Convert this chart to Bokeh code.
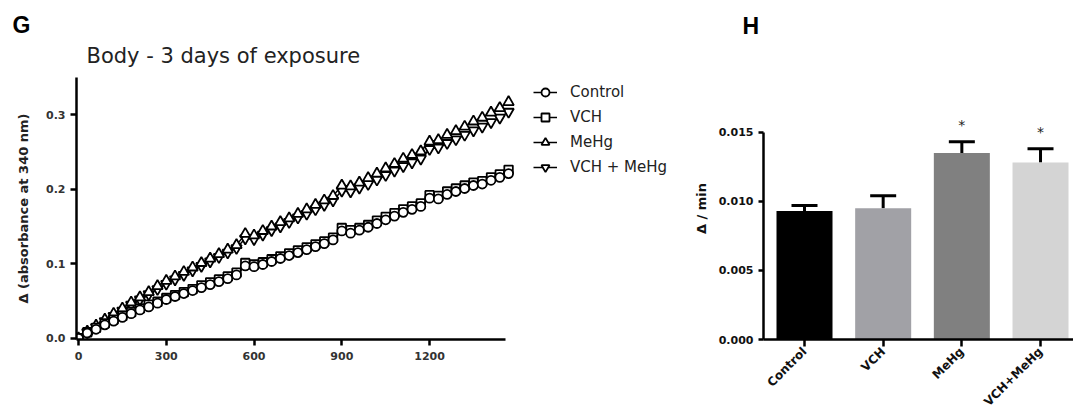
import math
from bokeh.plotting import figure
from bokeh.models import (Range1d, FixedTicker, Legend, LegendItem, Title, Whisker,
                          TeeHead, ColumnDataSource, NumeralTickFormatter)
from bokeh.layouts import row
from bokeh.embed import file_html
from bokeh.resources import INLINE
from bokeh.core.properties import value

# ---------------- data: panel G ----------------
time_s = [0, 30, 60, 90, 120, 150, 180, 210, 240, 270,
          300, 330, 360, 390, 420, 450, 480, 510, 540, 570,
          600, 630, 660, 690, 720, 750, 780, 810, 840, 870,
          900, 930, 960, 990, 1020, 1050, 1080, 1110, 1140, 1170,
          1200, 1230, 1260, 1290, 1320, 1350, 1380, 1410, 1440, 1470]

control = [0.000, 0.007, 0.012, 0.018, 0.023, 0.028, 0.033, 0.038, 0.042, 0.047,
           0.052, 0.056, 0.060, 0.064, 0.068, 0.072, 0.076, 0.080, 0.085, 0.097,
           0.096, 0.099, 0.103, 0.107, 0.111, 0.115, 0.119, 0.123, 0.127, 0.132,
           0.144, 0.141, 0.145, 0.149, 0.154, 0.159, 0.164, 0.169, 0.173, 0.177,
           0.188, 0.187, 0.193, 0.197, 0.201, 0.205, 0.207, 0.212, 0.216, 0.221]

vch = [0.000, 0.008, 0.014, 0.020, 0.025, 0.030, 0.035, 0.040, 0.045, 0.049,
       0.054, 0.058, 0.062, 0.066, 0.071, 0.075, 0.079, 0.083, 0.088, 0.101,
       0.099, 0.102, 0.106, 0.110, 0.114, 0.118, 0.122, 0.126, 0.130, 0.135,
       0.148, 0.145, 0.148, 0.152, 0.158, 0.163, 0.168, 0.173, 0.177, 0.181,
       0.192, 0.191, 0.197, 0.201, 0.205, 0.209, 0.211, 0.216, 0.220, 0.226]

mehg = [0.000, 0.009, 0.017, 0.025, 0.033, 0.040, 0.048, 0.055, 0.062, 0.070,
        0.077, 0.083, 0.089, 0.095, 0.101, 0.107, 0.113, 0.119, 0.125, 0.140,
        0.138, 0.144, 0.150, 0.156, 0.161, 0.167, 0.173, 0.179, 0.185, 0.191,
        0.205, 0.204, 0.209, 0.215, 0.221, 0.228, 0.234, 0.241, 0.246, 0.251,
        0.264, 0.266, 0.273, 0.278, 0.284, 0.291, 0.296, 0.303, 0.309, 0.317]

vch_mehg = [0.000, 0.008, 0.015, 0.023, 0.030, 0.037, 0.045, 0.052, 0.059, 0.066,
            0.073, 0.079, 0.085, 0.091, 0.097, 0.103, 0.109, 0.115, 0.121, 0.134,
            0.133, 0.139, 0.145, 0.150, 0.156, 0.162, 0.167, 0.173, 0.179, 0.185,
            0.198, 0.197, 0.202, 0.207, 0.213, 0.219, 0.225, 0.231, 0.236, 0.241,
            0.254, 0.256, 0.262, 0.267, 0.273, 0.279, 0.284, 0.290, 0.296, 0.304]

series_names = ["Control", "VCH", "MeHg", "VCH + MeHg"]
series_markers = ["circle", "square", "triangle", "inverted_triangle"]
x_ticks = [0, 300, 600, 900, 1200]
y_ticks = [0.0, 0.1, 0.2, 0.3]
title_g = "Body - 3 days of exposure"
ylabel_g = "Δ (absorbance at 340 nm)"

# ---------------- data: panel H ----------------
bar_categories = ["Control", "VCH", "MeHg", "VCH+MeHg"]
bar_means = [0.0093, 0.0095, 0.0135, 0.0128]
bar_sem = [0.0004, 0.0009, 0.0008, 0.0010]
bar_colors = ["#000000", "#a1a1a6", "#808080", "#d4d4d4"]
bar_marks = ["", "", "*", "*"]
bar_y_ticks = [0.0, 0.005, 0.010, 0.015]
ylabel_h = "Δ / min"

FONT = "DejaVu Sans"


def spacer(px):
    # a blank title (a single space) that only reserves vertical room in the top panel
    return Title(text=" ", standoff=px, text_font_size="1px", text_color="white")


# ================= panel G =================
p1 = figure(width=688, height=416,
            x_range=Range1d(-6.84, 2085), y_range=Range1d(-0.0017, 0.35),
            min_border_left=76, min_border_right=0, min_border_top=77, min_border_bottom=77,
            output_backend="svg", toolbar_location=None)
p1.outline_line_color = None
p1.xgrid.visible = False
p1.ygrid.visible = False

series = [control, vch, mehg, vch_mehg]
marker_sizes = [9, 8.5, 10.5, 10.5]
rend = {}
for idx in [3, 2, 1, 0]:
    src = ColumnDataSource(dict(t=time_s, v=series[idx]))
    ln = p1.line("t", "v", source=src, line_color="black", line_width=1.5)
    sc = p1.scatter("t", "v", source=src, marker=series_markers[idx], size=marker_sizes[idx],
                    fill_color="white", line_color="black", line_width=1.8)
    rend[idx] = [ln, sc]

legend = Legend(items=[LegendItem(label=series_names[i], renderers=rend[i]) for i in range(4)],
                location=(457, 162), margin=0, padding=0, spacing=5,
                glyph_width=24, glyph_height=20, label_standoff=13,
                label_text_font=FONT, label_text_font_size="15px", label_text_color="#222222",
                label_text_baseline="middle",
                border_line_color=None, background_fill_alpha=0)
p1.add_layout(legend)

for ax in (p1.xaxis[0], p1.yaxis[0]):
    ax.axis_line_width = 2.5
    ax.axis_line_color = "black"
    ax.major_tick_line_width = 2.5
    ax.major_tick_line_color = "black"
    ax.major_tick_out = 6
    ax.major_tick_in = 0
    ax.minor_tick_line_color = None
    ax.major_label_text_font = FONT
    ax.major_label_text_font_style = "bold"
    ax.major_label_text_font_size = "11px"
    ax.major_label_text_color = "#333333"
p1.xaxis.ticker = FixedTicker(ticks=x_ticks)
p1.xaxis.bounds = (-6.84, 1460)
p1.xaxis.major_label_standoff = 6
p1.yaxis.ticker = FixedTicker(ticks=y_ticks)
p1.yaxis.formatter = NumeralTickFormatter(format="0.0")
p1.yaxis.major_label_standoff = 5
p1.yaxis.axis_label = ylabel_g
p1.yaxis.axis_label_text_font = FONT
p1.yaxis.axis_label_text_font_style = "bold"
p1.yaxis.axis_label_text_font_size = "13px"
p1.yaxis.axis_label_text_color = "#222222"
p1.yaxis.axis_label_standoff = 12

p1.add_layout(spacer(7), "above")
p1.add_layout(Title(text=title_g, align="left", offset=10, standoff=0,
                    text_font=FONT, text_font_size="21px", text_font_style="normal",
                    text_color="#222222"), "above")
p1.add_layout(Title(text="G", align="left", offset=-64, standoff=7,
                    text_font="Liberation Sans", text_font_size="23px",
                    text_font_style="bold", text_color="black"), "above")

# ================= panel H =================
bar_x = [i + 1 for i in range(len(bar_categories))]
bar_upper = [m + s for m, s in zip(bar_means, bar_sem)]
src2 = ColumnDataSource(dict(x=bar_x, mean=bar_means, upper=bar_upper,
                             color=bar_colors, mark=bar_marks))

p2 = figure(width=385, height=416,
            x_range=Range1d(0.4788, 4.4193), y_range=Range1d(0, 0.018958),
            min_border_left=75, min_border_right=0, min_border_top=77, min_border_bottom=77,
            output_backend="svg", toolbar_location=None)
p2.outline_line_color = None
p2.xgrid.visible = False
p2.ygrid.visible = False

p2.vbar(x="x", top="mean", width=0.712, fill_color="color", line_color=None, source=src2)
p2.add_layout(Whisker(base="x", lower="mean", upper="upper", source=src2, dimension="height",
                      line_width=3, line_color="black",
                      upper_head=TeeHead(size=26, line_width=3, line_color="black"),
                      lower_head=None))
p2.text(x="x", y="upper", text="mark", source=src2, text_align="center",
        text_baseline="alphabetic", y_offset=-17, text_font=value(FONT),
        text_font_size="14px", text_color="#222222")

for ax in (p2.xaxis[0], p2.yaxis[0]):
    ax.axis_line_width = 2.5
    ax.axis_line_color = "black"
    ax.major_tick_line_width = 2.5
    ax.major_tick_line_color = "black"
    ax.major_tick_in = 0
    ax.minor_tick_line_color = None
    ax.major_label_text_font = FONT
    ax.major_label_text_font_style = "bold"
    ax.major_label_text_font_size = "11px"
    ax.major_label_text_color = "#111111"
p2.yaxis.ticker = FixedTicker(ticks=bar_y_ticks)
p2.yaxis.formatter = NumeralTickFormatter(format="0.000")
p2.yaxis.bounds = (0, 0.015)
p2.yaxis.major_tick_out = 5
p2.yaxis.major_label_standoff = 5
p2.yaxis.axis_label = ylabel_h
p2.yaxis.axis_label_text_font = FONT
p2.yaxis.axis_label_text_font_style = "bold"
p2.yaxis.axis_label_text_font_size = "13px"
p2.yaxis.axis_label_text_color = "#111111"
p2.yaxis.axis_label_standoff = 7
p2.xaxis.ticker = FixedTicker(ticks=bar_x)
p2.xaxis.major_label_overrides = {x: c for x, c in zip(bar_x, bar_categories)}
p2.xaxis.major_label_orientation = math.pi / 4
p2.xaxis.major_label_text_font_size = "12px"
p2.xaxis.major_tick_out = 7
p2.xaxis.major_label_standoff = 3

p2.add_layout(spacer(36), "above")
p2.add_layout(Title(text="H", align="left", offset=-21, standoff=0,
                    text_font="Liberation Sans", text_font_size="23px",
                    text_font_style="bold", text_color="black"), "above")

layout = row(p1, p2)
open("out.html", "w").write(file_html(layout, INLINE))
